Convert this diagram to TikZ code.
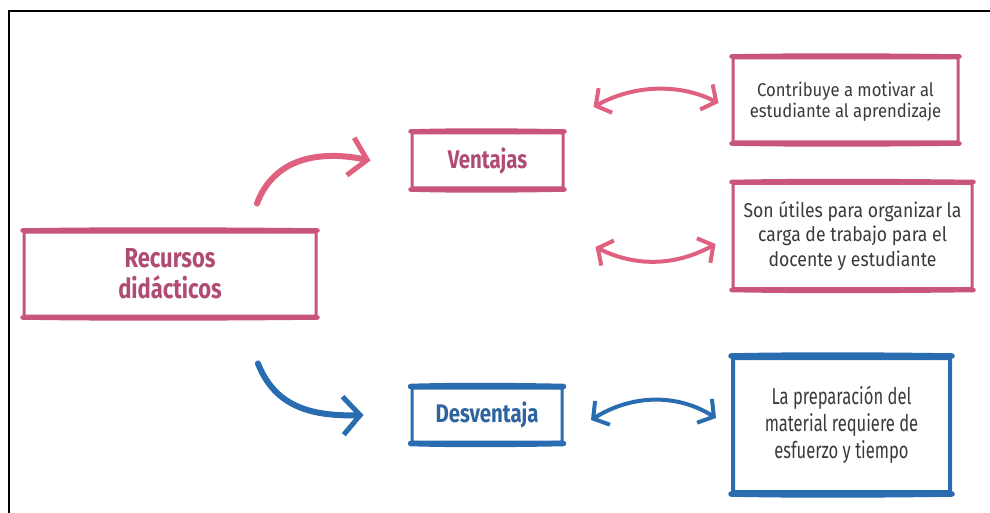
\documentclass[tikz,border=0pt]{standalone}
\usepackage{fontspec}
\setmainfont{Fira Sans}
\newfontfamily\headfont[FakeStretch=0.8]{Fira Sans}
\newfontfamily\bodyfontA[FakeStretch=0.9]{Fira Sans}
\newfontfamily\bodyfontB[FakeStretch=0.88]{Fira Sans}
\newfontfamily\bodyfontC[FakeStretch=0.72]{Fira Sans}
\usetikzlibrary{arrows.meta,calc}
\definecolor{pinkline}{HTML}{C9557A}
\definecolor{pinkarrow}{HTML}{E0607F}
\definecolor{pinktext}{HTML}{B04C74}
\definecolor{blueline}{HTML}{2A6CB0}
\definecolor{bluetext}{HTML}{2D64A0}
\definecolor{graytext}{HTML}{3A3A3A}
\tikzset{
  pbox/.style={draw=pinkline, line width=3pt, rounded corners=1pt, align=center, inner sep=0pt},
  bbox/.style={draw=blueline, line width=3pt, rounded corners=1pt, align=center, inner sep=0pt},
  headtxt/.style={font={\headfont\bfseries\fontsize{25.5}{31}\selectfont}},
  bodytxt/.style={text=graytext},
  edgeP/.style={draw=pinkline, line width=4.5pt, line cap=round},
  edgeB/.style={draw=blueline, line width=5.5pt, line cap=round},
  bigarrow/.style={line width=6pt, line cap=round, -{Straight Barb[length=17pt, width=38pt, line width=5pt]}},
  dblarrow/.style={line width=4pt, line cap=round, {Straight Barb[length=11pt, width=28pt, line width=4pt]}-{Straight Barb[length=11pt, width=28pt, line width=4pt]}},
}
\begin{document}
\begin{tikzpicture}[x=1pt, y=-1pt]
  \useasboundingbox (0,0) rectangle (990,513);
  \fill[white] (0,0) rectangle (990,513);
  \draw[line width=2pt, black] (9,513) -- (9,11) -- (990,11);

  % nodes
  \node[pbox, headtxt, text=pinktext, minimum width=292pt, minimum height=84pt,
        font={\headfont\bfseries\fontsize{27.5}{31}\selectfont}] (rec) at (170,274) {Recursos\\did\'acticos};
  \node[pbox, headtxt, text=pinktext, minimum width=151pt, minimum height=55pt] (ven) at (487.5,160.5) {Ventajas};
  \node[bbox, headtxt, text=bluetext, minimum width=150pt, minimum height=54pt] (des) at (487,415) {Desventaja};
  \node[pbox, bodytxt, minimum width=225pt, minimum height=84pt,
        font={\bodyfontA\fontsize{18.5}{21}\selectfont}] (c1) at (845.5,100) {};
  \node[bodytxt, align=center, inner sep=0pt,
        font={\bodyfontA\fontsize{18.5}{21}\selectfont}] (c1t) at ($(c1.center)+(0,2)$) {Contribuye a motivar al\\estudiante al aprendizaje};
  \node[pbox, bodytxt, minimum width=239pt, minimum height=105pt,
        font={\bodyfontB\fontsize{20}{24.5}\selectfont}] (c2) at (852.5,236) {Son útiles para organizar la\\carga de trabajo para el\\docente y estudiante};
  \node[bbox, line width=4pt, bodytxt, minimum width=217pt, minimum height=134pt,
        font={\bodyfontC\fontsize{23}{27}\selectfont}] (d2) at (841.5,425) {La preparación del\\material requiere de\\esfuerzo y tiempo};

  % hand-drawn thicker top and bottom edges
  \foreach \n in {rec,ven,c1,c2} {
    \draw[edgeP] (\n.north west) .. controls ($(\n.north west)!0.3!(\n.north east)+(0,-1.5)$) and ($(\n.north west)!0.7!(\n.north east)+(0,-1)$) .. (\n.north east);
    \draw[edgeP] (\n.south west) .. controls ($(\n.south west)!0.3!(\n.south east)+(0,1.5)$) and ($(\n.south west)!0.7!(\n.south east)+(0,1)$) .. (\n.south east);
  }
  \foreach \n in {des,d2} {
    \draw[edgeB] (\n.north west) .. controls ($(\n.north west)!0.3!(\n.north east)+(0,-1.5)$) and ($(\n.north west)!0.7!(\n.north east)+(0,-1)$) .. (\n.north east);
    \draw[edgeB] (\n.south west) .. controls ($(\n.south west)!0.3!(\n.south east)+(0,1.5)$) and ($(\n.south west)!0.7!(\n.south east)+(0,1)$) .. (\n.south east);
  }

  % anchor coordinates for free arrow ends
  \coordinate (a1s) at ($(rec.north)+(87,-27)$);
  \coordinate (a1e) at ($(ven.west)+(-40,0)$);
  \coordinate (a2s) at ($(rec.south)+(88,46)$);
  \coordinate (a2e) at ($(des.west)+(-47,0)$);
  \coordinate (b1l) at ($(c1.west)+(-138,7)$);
  \coordinate (b1r) at ($(c1.west)+(-13,3)$);
  \coordinate (b2l) at ($(c2.west)+(-136,11)$);
  \coordinate (b2r) at ($(c2.west)+(-16,8)$);
  \coordinate (b3l) at ($(d2.west)+(-140,-5)$);
  \coordinate (b3r) at ($(d2.west)+(-15,-7)$);

  % connectors
  \draw[bigarrow, pinkarrow] (a1s) .. controls ($(a1s)+(15,-40)$) and ($(a1e)+(-60,-12)$) .. (a1e);
  \draw[bigarrow, blueline] (a2s) .. controls ($(a2s)+(15,38)$) and ($(a2e)+(-60,2)$) .. (a2e);
  \draw[dblarrow, pinkarrow] (b1l) .. controls ($(b1l)+(40,-22)$) and ($(b1r)+(-40,-20)$) .. (b1r);
  \draw[dblarrow, pinkarrow] (b2l) .. controls ($(b2l)+(40,20)$) and ($(b2r)+(-40,22)$) .. (b2r);
  \draw[dblarrow, blueline] (b3l) .. controls ($(b3l)+(40,-25)$) and ($(b3r)+(-40,-25)$) .. (b3r);
\end{tikzpicture}
\end{document}
